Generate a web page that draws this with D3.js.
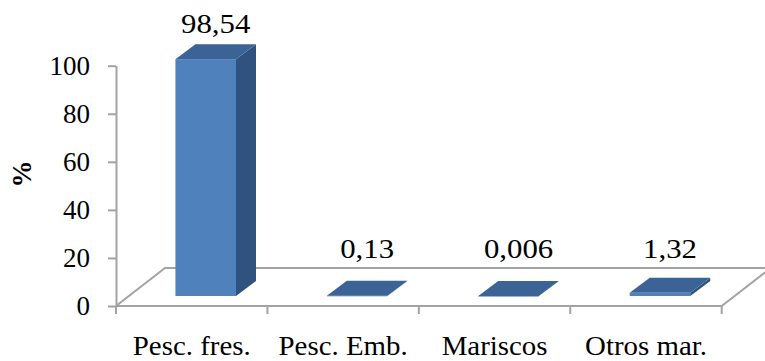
<!DOCTYPE html>
<html>
<head>
<meta charset="utf-8">
<script src="https://cdnjs.cloudflare.com/ajax/libs/d3/7.8.5/d3.min.js"></script>
<style>
  html, body { margin: 0; padding: 0; background: #ffffff; }
  svg { display: block; }
  text { font-family: "Liberation Serif", "Times New Roman", serif; fill: #000; }
</style>
</head>
<body>
<svg id="chart" width="765" height="361"></svg>
<script>
// Share of each product group (%)
const categories = ["Pesc. fres.", "Pesc. Emb.", "Mariscos", "Otros mar."];
const values = [98.54, 0.13, 0.006, 1.32];
const valueLabels = ["98,54", "0,13", "0,006", "1,32"];
const yTicks = [0, 20, 40, 60, 80, 100];
const yTitle = "%";

const svg = d3.select("#chart");
const W = 765, H = 361;
const serif = "'Liberation Serif', 'Times New Roman', serif";

// front plane of the 3D box
const plotLeft = 116, plotRight = 721.7, plotBase = 306, plotTop = 65.7;
// depth of the floor (perspective offset)
const depthX = 49, depthY = -38;
// bar placement inside the floor depth
const shiftX = 14, shiftY = -10;
const barDX = 20, barDY = -15;

const x = d3.scaleBand().domain(categories).range([plotLeft, plotRight]).padding(0);
const y = d3.scaleLinear().domain([0, 100]).range([plotBase, plotTop]);
const barW = x.bandwidth() * 0.4;

const gridColor = "#a3a3a3";
const fontSize = 27;

// text placed at (px, py) with a slight horizontal stretch
function stretchedText(parent, px, py, str, size, sx) {
  return parent.append("g")
    .attr("transform", `translate(${px},${py}) scale(${sx},1)`)
    .append("text")
    .attr("text-anchor", "middle")
    .style("font-family", serif)
    .style("font-size", size + "px")
    .text(str);
}

// floor outline
const floor = svg.append("g").attr("fill", "none").attr("stroke", gridColor).attr("stroke-width", 2);
floor.append("path").attr("d", d3.line()([
  [plotLeft, y(0)], [plotLeft + depthX, y(0) + depthY], [W + 20, y(0) + depthY]
]));
floor.append("path").attr("d", d3.line()([
  [plotLeft, y(0)], [plotRight, y(0)], [plotRight + depthX, y(0) + depthY]
]));

// y axis
const yAxis = svg.append("g")
  .attr("transform", `translate(${plotLeft},0)`)
  .call(d3.axisLeft(y).tickValues(yTicks).tickSize(8).tickSizeOuter(0).tickPadding(18));
yAxis.select(".domain").attr("stroke", gridColor).attr("stroke-width", 2);
yAxis.selectAll(".tick line").attr("stroke", gridColor).attr("stroke-width", 2);
yAxis.selectAll(".tick text")
  .style("font-family", serif)
  .style("font-size", fontSize + "px")
  .attr("fill", "#000");

// category ticks at band boundaries
const bounds = categories.map(c => x(c)).concat([x(categories[categories.length - 1]) + x.bandwidth()]);
svg.append("g").selectAll("line").data(bounds).join("line")
  .attr("x1", d => d).attr("x2", d => d)
  .attr("y1", y(0)).attr("y2", y(0) + 8)
  .attr("stroke", gridColor).attr("stroke-width", 2);

// category labels
const catG = svg.append("g");
categories.forEach(c => stretchedText(catG, x(c) + x.bandwidth() / 2, 355, c, fontSize, 1.07));

// 3D bars
const bars = svg.append("g");
const labelG = svg.append("g");
categories.forEach((c, i) => {
  const x1 = x(c) + x.bandwidth() / 2 - barW / 2 + shiftX;
  const x2 = x1 + barW;
  const yb = y(0) + shiftY;
  const yt = y(values[i]) + shiftY;
  const g = bars.append("g");
  // front face
  g.append("rect")
    .attr("x", x1).attr("y", yt)
    .attr("width", barW).attr("height", Math.max(yb - yt, 0.6))
    .attr("fill", "#4f81bd");
  // side face
  g.append("path")
    .attr("d", d3.line()([[x2, yt], [x2 + barDX, yt + barDY], [x2 + barDX, yb + barDY], [x2, yb]]) + "Z")
    .attr("fill", "#30527f");
  // top face
  g.append("path")
    .attr("d", d3.line()([[x1, yt], [x2, yt], [x2 + barDX, yt + barDY], [x1 + barDX, yt + barDY]]) + "Z")
    .attr("fill", "#3b6395");

  // value label above the bar, kept clear of the floor's back edge
  const ly = Math.min(yt + barDY - 11, y(0) + depthY - 10);
  stretchedText(labelG, x1 + (barW + barDX) / 2, ly, valueLabels[i], fontSize + 1, 1.1);
});

// y axis title
svg.append("text")
  .attr("transform", "translate(31,174) rotate(-90)")
  .attr("text-anchor", "middle")
  .style("font-family", serif)
  .style("font-size", fontSize + "px")
  .attr("font-weight", "bold")
  .text(yTitle);
</script>
</body>
</html>
